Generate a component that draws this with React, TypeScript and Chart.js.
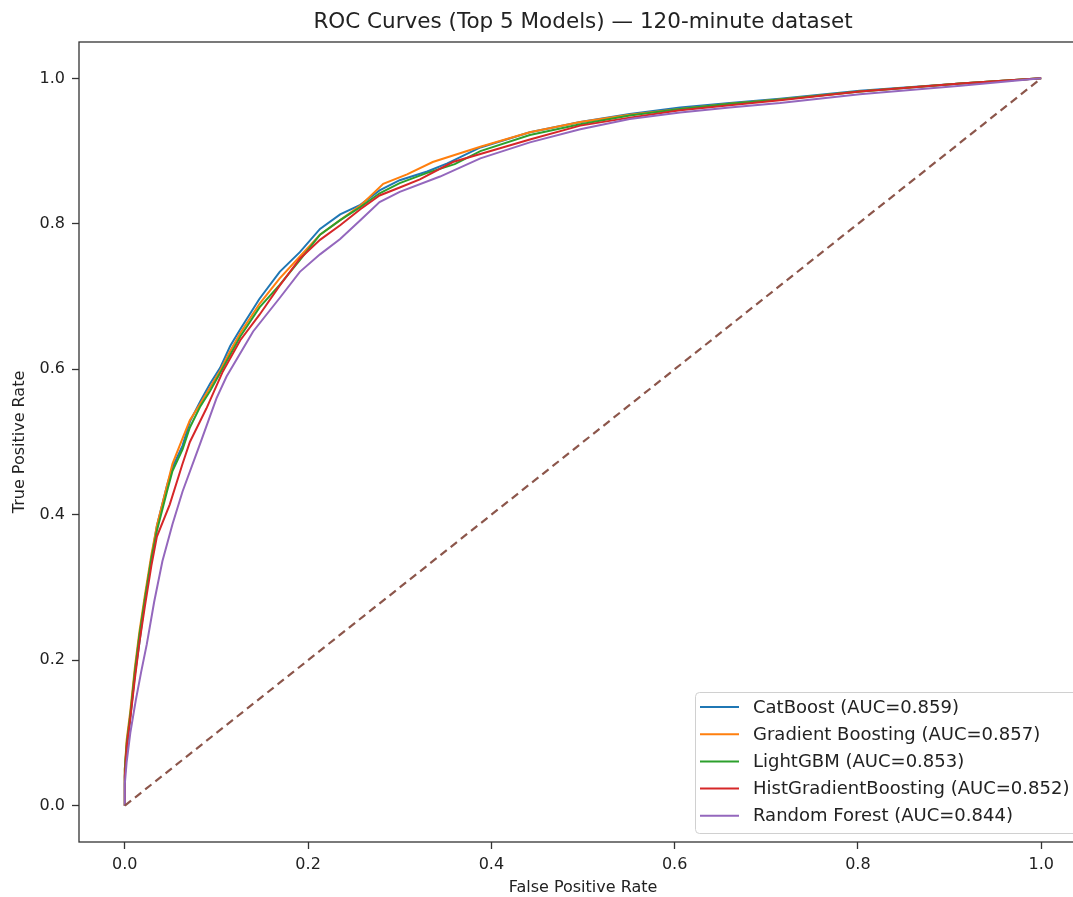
import React, { useEffect, useRef } from "react";
import { Chart, registerables } from "chart.js";

Chart.register(...registerables);

const TITLE = "ROC Curves (Top 5 Models) — 120-minute dataset";
const X_LABEL = "False Positive Rate";
const Y_LABEL = "True Positive Rate";
const TICKS = [0, 0.2, 0.4, 0.6, 0.8, 1.0];

const MODEL_NAMES = ["CatBoost", "Gradient Boosting", "LightGBM", "HistGradientBoosting", "Random Forest"];
const MODEL_AUC = [0.859, 0.857, 0.853, 0.852, 0.844];
const MODEL_COLORS = ["#1f77b4", "#ff7f0e", "#2ca02c", "#d62728", "#9467bd"];

const catboostFpr = [0, 0, 0.001, 0.005, 0.011, 0.016, 0.022, 0.029, 0.035, 0.046, 0.052, 0.063, 0.071, 0.082, 0.093, 0.104, 0.115, 0.126, 0.147, 0.169, 0.191, 0.213, 0.235, 0.257, 0.278, 0.3, 0.33, 0.352, 0.388, 0.442, 0.497, 0.551, 0.606, 0.66, 0.715, 0.802, 0.912, 1.0];
const catboostTpr = [0, 0.04, 0.066, 0.11, 0.18, 0.225, 0.285, 0.34, 0.385, 0.44, 0.465, 0.495, 0.528, 0.555, 0.58, 0.602, 0.632, 0.655, 0.697, 0.734, 0.761, 0.793, 0.813, 0.826, 0.846, 0.86, 0.872, 0.883, 0.905, 0.926, 0.94, 0.951, 0.96, 0.966, 0.972, 0.983, 0.993, 1.0];

const gbFpr = [0, 0, 0.002, 0.006, 0.011, 0.016, 0.022, 0.029, 0.035, 0.046, 0.052, 0.063, 0.071, 0.082, 0.093, 0.104, 0.115, 0.126, 0.147, 0.169, 0.191, 0.213, 0.235, 0.257, 0.282, 0.308, 0.336, 0.388, 0.442, 0.497, 0.551, 0.606, 0.66, 0.715, 0.802, 0.912, 1.0];
const gbTpr = [0, 0.05, 0.09, 0.13, 0.19, 0.24, 0.29, 0.345, 0.385, 0.44, 0.47, 0.505, 0.53, 0.552, 0.575, 0.598, 0.625, 0.65, 0.69, 0.725, 0.755, 0.785, 0.805, 0.825, 0.855, 0.868, 0.885, 0.906, 0.926, 0.94, 0.95, 0.958, 0.965, 0.971, 0.982, 0.993, 1.0];

const lgbmFpr = [0, 0, 0.002, 0.006, 0.011, 0.016, 0.022, 0.029, 0.035, 0.046, 0.052, 0.063, 0.071, 0.082, 0.093, 0.104, 0.115, 0.126, 0.147, 0.169, 0.191, 0.213, 0.235, 0.257, 0.278, 0.3, 0.33, 0.36, 0.388, 0.442, 0.497, 0.551, 0.606, 0.66, 0.715, 0.802, 0.912, 1.0];
const lgbmTpr = [0, 0.05, 0.085, 0.125, 0.185, 0.235, 0.285, 0.34, 0.378, 0.432, 0.46, 0.49, 0.52, 0.548, 0.57, 0.595, 0.62, 0.645, 0.685, 0.716, 0.75, 0.785, 0.805, 0.823, 0.842, 0.856, 0.87, 0.882, 0.9, 0.922, 0.937, 0.949, 0.958, 0.965, 0.971, 0.982, 0.993, 1.0];

const histFpr = [0, 0, 0.002, 0.006, 0.011, 0.016, 0.022, 0.029, 0.035, 0.049, 0.063, 0.071, 0.089, 0.107, 0.126, 0.147, 0.169, 0.191, 0.213, 0.235, 0.257, 0.278, 0.3, 0.322, 0.358, 0.388, 0.442, 0.497, 0.551, 0.606, 0.66, 0.715, 0.802, 0.912, 1.0];
const histTpr = [0, 0.04, 0.08, 0.12, 0.175, 0.225, 0.275, 0.33, 0.37, 0.414, 0.47, 0.5, 0.546, 0.597, 0.64, 0.675, 0.715, 0.752, 0.778, 0.798, 0.82, 0.839, 0.85, 0.861, 0.885, 0.896, 0.916, 0.935, 0.946, 0.956, 0.963, 0.97, 0.982, 0.993, 1.0];

const rfFpr = [0, 0, 0.002, 0.006, 0.012, 0.018, 0.024, 0.032, 0.041, 0.052, 0.063, 0.082, 0.1, 0.111, 0.126, 0.14, 0.169, 0.191, 0.213, 0.235, 0.257, 0.278, 0.3, 0.344, 0.388, 0.442, 0.497, 0.551, 0.606, 0.66, 0.715, 0.802, 0.912, 1.0];
const rfTpr = [0, 0.03, 0.06, 0.1, 0.145, 0.185, 0.222, 0.28, 0.336, 0.387, 0.432, 0.497, 0.56, 0.59, 0.622, 0.652, 0.698, 0.734, 0.758, 0.779, 0.805, 0.83, 0.844, 0.865, 0.89, 0.912, 0.93, 0.944, 0.953, 0.96, 0.966, 0.978, 0.99, 1.0];

const diagX = [0, 1];
const diagY = [0, 1];

const MODEL_FPR = [catboostFpr, gbFpr, lgbmFpr, histFpr, rfFpr];
const MODEL_TPR = [catboostTpr, gbTpr, lgbmTpr, histTpr, rfTpr];

const FONT = "'DejaVu Sans', sans-serif";

const frameAndText = {
  id: "frameAndText",
  afterDraw(chart: any) {
    const { ctx, chartArea } = chart;
    const ca = chartArea;
    ctx.save();
    // Axes frame (right spine falls just past the visible page)
    ctx.strokeStyle = "#333";
    ctx.lineWidth = 1.3;
    ctx.strokeRect(ca.left, ca.top, ca.right - ca.left, ca.bottom - ca.top);
    // Title
    ctx.fillStyle = "#222";
    ctx.font = `21.5px ${FONT}`;
    ctx.textAlign = "center";
    ctx.textBaseline = "middle";
    ctx.fillText(TITLE, (ca.left + ca.right) / 2, 22);
    // Legend
    const bx = ca.right - 392;
    const by = ca.bottom - 150;
    const bw = 384;
    const bh = 141;
    ctx.fillStyle = "rgba(255,255,255,0.85)";
    ctx.strokeStyle = "#d0d0d0";
    ctx.lineWidth = 1;
    ctx.beginPath();
    (ctx as any).roundRect(bx + 0.5, by + 0.5, bw, bh, 4);
    ctx.fill();
    ctx.stroke();
    ctx.font = `18px ${FONT}`;
    ctx.textAlign = "left";
    ctx.textBaseline = "middle";
    const ds = chart.data.datasets.filter((d: any) => !d.hideInLegend);
    ds.forEach((d: any, i: number) => {
      const y = by + 15 + i * 27.2;
      ctx.strokeStyle = d.borderColor;
      ctx.lineWidth = 2;
      ctx.beginPath();
      ctx.moveTo(bx + 5, y);
      ctx.lineTo(bx + 44, y);
      ctx.stroke();
      ctx.fillStyle = "#222";
      ctx.fillText(d.label, bx + 58, y + 1);
    });
    ctx.restore();
  },
};

export default function App() {
  const ref = useRef<HTMLCanvasElement | null>(null);
  useEffect(() => {
    if (!ref.current) return;
    const datasets: any[] = MODEL_NAMES.map((name, i) => ({
      label: `${name} (AUC=${MODEL_AUC[i].toFixed(3)})`,
      data: MODEL_FPR[i].map((x, j) => ({ x, y: MODEL_TPR[i][j] })),
      borderColor: MODEL_COLORS[i],
      backgroundColor: MODEL_COLORS[i],
      borderWidth: 2,
      pointRadius: 0,
      tension: 0,
      fill: false,
      order: 10 - i,
    }));
    datasets.push({
      label: "Chance",
      hideInLegend: true,
      data: diagX.map((x, j) => ({ x, y: diagY[j] })),
      borderColor: "#8c564b",
      borderWidth: 2.2,
      borderDash: [8, 5],
      pointRadius: 0,
      fill: false,
      order: 0,
    });
    const fixTicks = (scale: any) => {
      scale.ticks = TICKS.map((v) => ({ value: v }));
    };
    const chart = new Chart(ref.current, {
      type: "line",
      data: { datasets },
      options: {
        responsive: false,
        animation: false,
        devicePixelRatio: 1,
        layout: { padding: { left: 0, top: 42, right: 13, bottom: 0 } },
        plugins: {
          legend: { display: false },
          title: { display: false },
          tooltip: { enabled: false },
        },
        scales: {
          x: {
            type: "linear",
            min: -0.05,
            max: 1.05,
            afterBuildTicks: fixTicks,
            afterFit: (s: any) => {
              s.height = 55;
            },
            grid: { display: true, drawOnChartArea: false, drawTicks: true, tickLength: 7, color: "#333", tickWidth: 1.3 },
            border: { display: false },
            ticks: {
              color: "#222",
              font: { family: FONT, size: 16 },
              padding: 6,
              maxRotation: 0,
              callback: (v: any) => Number(v).toFixed(1),
            },
            title: {
              display: true,
              text: X_LABEL,
              color: "#222",
              font: { family: FONT, size: 16 },
              padding: { top: 0, bottom: 0 },
            },
          },
          y: {
            type: "linear",
            min: -0.05,
            max: 1.05,
            afterBuildTicks: fixTicks,
            afterFit: (s: any) => {
              s.width = 79;
            },
            grid: { display: true, drawOnChartArea: false, drawTicks: true, tickLength: 7, color: "#333", tickWidth: 1.3 },
            border: { display: false },
            ticks: {
              color: "#222",
              font: { family: FONT, size: 16 },
              padding: 7,
              callback: (v: any) => Number(v).toFixed(1),
            },
            title: {
              display: true,
              text: Y_LABEL,
              color: "#222",
              font: { family: FONT, size: 16 },
              padding: { top: 10, bottom: 0 },
            },
          },
        },
      },
      plugins: [frameAndText],
    });
    return () => chart.destroy();
  }, []);
  return (
    <div style={{ position: "fixed", left: 0, top: 0, width: 1073, height: 897, overflow: "hidden", background: "#fff" }}>
      <canvas ref={ref} width={1100} height={897} style={{ display: "block", width: 1100, height: 897 }} />
    </div>
  );
}
